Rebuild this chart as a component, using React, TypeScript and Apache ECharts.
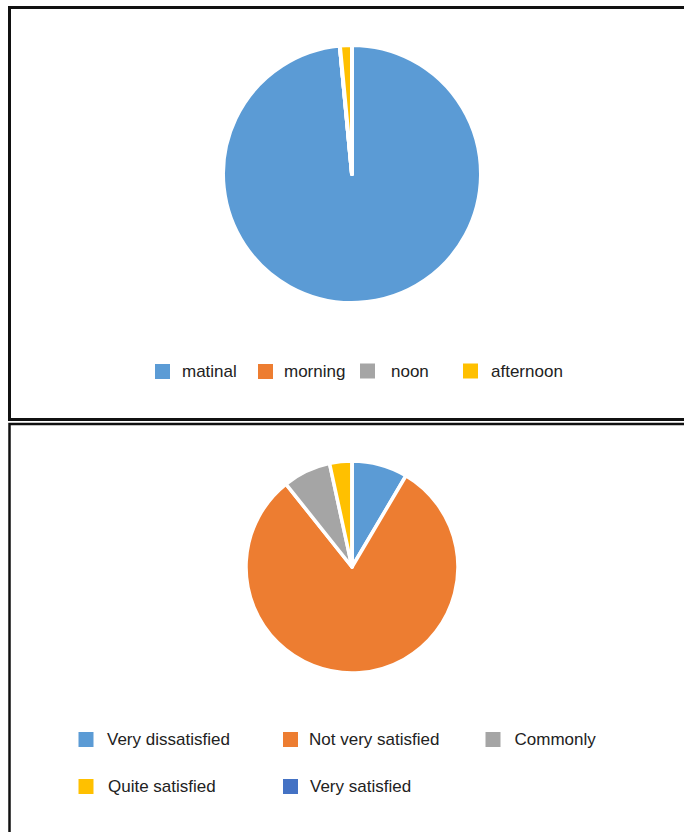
import React, { useEffect, useRef } from "react";
import * as echarts from "echarts";

const timeCategories = ["matinal", "morning", "noon", "afternoon"];
const timeValues = [98.5, 0, 0, 1.5];

const satisfactionCategories = [
  "Very dissatisfied",
  "Not very satisfied",
  "Commonly",
  "Quite satisfied",
  "Very satisfied",
];
const satisfactionValues = [8.5, 80.8, 7.3, 3.4, 0];

const timeColors = ["#5B9BD5", "#ED7D31", "#A5A5A5", "#FFC000"];
const satisfactionColors = ["#5B9BD5", "#ED7D31", "#A5A5A5", "#FFC000", "#4472C4"];

const FONT = "'Liberation Sans', Arial, sans-serif";

// legend placement: [iconLeft, iconCenterY, textLeft]
const timeLegendPos: number[][] = [
  [155, 371.5, 182],
  [258, 371.5, 284],
  [360, 371, 391],
  [463, 371, 491],
];
const satLegendPos: number[][] = [
  [78.5, 739.5, 107],
  [283, 739.5, 309],
  [485.5, 739.5, 514.5],
  [78.5, 786.5, 108],
  [283, 786.5, 310],
];

function makeLegend(name: string, pos: number[]) {
  const [iconX, cy, textX] = pos;
  return {
    data: [name],
    left: iconX,
    top: cy - 8.5,
    padding: 0,
    icon: "rect",
    itemWidth: 15,
    itemHeight: 15,
    selectedMode: false,
    itemStyle: { borderWidth: 0 },
    textStyle: {
      fontFamily: FONT,
      fontSize: 17,
      color: "#222222",
      padding: [0, 0, 0, Math.max(0, textX - (iconX + 15 + 5))],
    },
  };
}

export default function App() {
  const ref = useRef<HTMLDivElement>(null);
  useEffect(() => {
    if (!ref.current) return;
    const chart = echarts.init(ref.current, null, { renderer: "svg" });
    const legends = [
      ...timeCategories.map((n, i) => makeLegend(n, timeLegendPos[i])),
      ...satisfactionCategories.map((n, i) => makeLegend(n, satLegendPos[i])),
    ];
    chart.setOption({
      animation: false,
      backgroundColor: "#ffffff",
      legend: legends,
      graphic: [
        {
          type: "rect",
          shape: { x: 9.5, y: 7.5, width: 720, height: 412 },
          style: { fill: "none", stroke: "#111111", lineWidth: 3 },
          silent: true,
        },
        {
          type: "rect",
          shape: { x: 9.5, y: 424, width: 720, height: 500 },
          style: { fill: "none", stroke: "#111111", lineWidth: 2.5 },
          silent: true,
        },
      ],
      series: [
        {
          type: "pie",
          center: [352, 174],
          radius: 129,
          startAngle: 90,
          clockwise: true,
          label: { show: false },
          labelLine: { show: false },
          emphasis: { disabled: true },
          itemStyle: { borderColor: "#ffffff", borderWidth: 4 },
          data: timeCategories.map((n, i) => ({
            name: n,
            value: timeValues[i],
            itemStyle: { color: timeColors[i] },
          })),
        },
        {
          type: "pie",
          center: [352, 567],
          radius: 106,
          startAngle: 90,
          clockwise: true,
          label: { show: false },
          labelLine: { show: false },
          emphasis: { disabled: true },
          itemStyle: { borderColor: "#ffffff", borderWidth: 3.5 },
          data: satisfactionCategories.map((n, i) => ({
            name: n,
            value: satisfactionValues[i],
            itemStyle: { color: satisfactionColors[i] },
          })),
        },
      ],
    });
    return () => chart.dispose();
  }, []);
  return (
    <div
      ref={ref}
      style={{ position: "fixed", left: 0, top: 0, width: 684, height: 832 }}
    />
  );
}
